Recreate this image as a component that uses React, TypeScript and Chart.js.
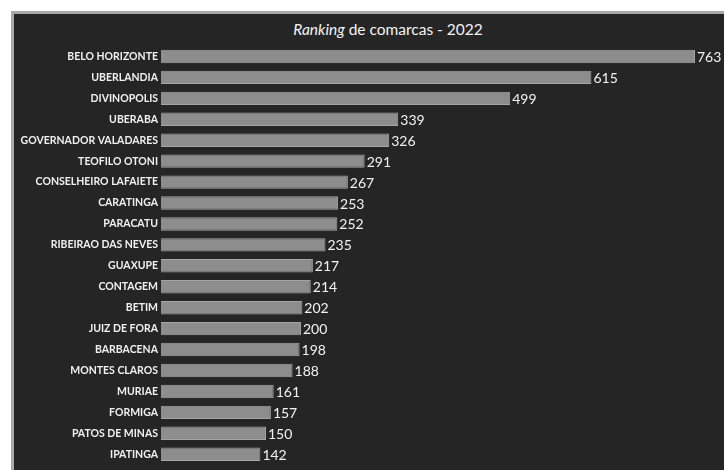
import React, { useEffect, useRef } from "react";
import { Chart, registerables } from "chart.js";

Chart.register(...registerables);

const categories = [
  "BELO HORIZONTE",
  "UBERLANDIA",
  "DIVINOPOLIS",
  "UBERABA",
  "GOVERNADOR VALADARES",
  "TEOFILO OTONI",
  "CONSELHEIRO LAFAIETE",
  "CARATINGA",
  "PARACATU",
  "RIBEIRAO DAS NEVES",
  "GUAXUPE",
  "CONTAGEM",
  "BETIM",
  "JUIZ DE FORA",
  "BARBACENA",
  "MONTES CLAROS",
  "MURIAE",
  "FORMIGA",
  "PATOS DE MINAS",
  "IPATINGA",
];

const values = [763, 615, 499, 339, 326, 291, 267, 253, 252, 235, 217, 214, 202, 200, 198, 188, 161, 157, 150, 142];

const valueLabelPlugin = {
  id: "valueLabels",
  afterDatasetsDraw(chart: any) {
    const ctx = chart.ctx;
    const meta = chart.getDatasetMeta(0);
    ctx.save();
    ctx.fillStyle = "#f2f2f2";
    ctx.font = "14px Lato, 'Open Sans', sans-serif";
    ctx.textAlign = "left";
    ctx.textBaseline = "middle";
    meta.data.forEach((bar: any, i: number) => {
      ctx.fillText(String(values[i]), bar.x + 2, bar.y + 1);
    });
    ctx.restore();
  },
};

export default function App() {
  const ref = useRef<HTMLCanvasElement>(null);

  useEffect(() => {
    document.body.style.margin = "0";
    const chart = new Chart(ref.current!, {
      type: "bar",
      data: {
        labels: categories,
        datasets: [
          {
            data: values,
            backgroundColor: "#8d8d8d",
            borderColor: "#a5a5a5",
            borderWidth: 1,
            barPercentage: 0.64,
            categoryPercentage: 1,
          },
        ],
      },
      options: {
        indexAxis: "y",
        animation: false,
        responsive: true,
        maintainAspectRatio: false,
        layout: { padding: { top: 32, bottom: 2, right: 29, left: 0 } },
        plugins: {
          legend: { display: false },
          tooltip: { enabled: false },
          title: { display: false },
        },
        scales: {
          x: {
            display: false,
            min: 0,
            max: 763,
          },
          y: {
            grid: { display: false, drawTicks: false },
            border: { display: false },
            ticks: {
              color: "#f0f0f0",
              padding: 3,
              font: { family: "Lato, 'Open Sans', sans-serif", size: 10.5, weight: "bold" },
            },
            afterFit(scale: any) {
              scale.width = 147;
            },
          },
        },
      },
      plugins: [valueLabelPlugin],
    });
    return () => chart.destroy();
  }, []);

  return (
    <div style={{ position: "fixed", left: 0, top: 0, width: 724, height: 470, background: "#ffffff", overflow: "hidden" }}>
      <div
        style={{
          position: "absolute",
          left: 11,
          top: 11,
          width: 724,
          height: 470,
          background: "#252525",
          borderLeft: "3px solid #a9a9a9",
          borderTop: "3px solid #a9a9a9",
        }}
      />
      <div
        style={{
          position: "absolute",
          left: 288,
          top: 20,
          width: 200,
          textAlign: "center",
          color: "#f4f4f4",
          font: "15.5px Lato, 'Open Sans', sans-serif",
          whiteSpace: "nowrap",
        }}
      >
        <i>Ranking</i> de comarcas - 2022
      </div>
      <div style={{ position: "absolute", left: 14, top: 14, width: 710, height: 460 }}>
        <canvas ref={ref} />
      </div>
    </div>
  );
}
